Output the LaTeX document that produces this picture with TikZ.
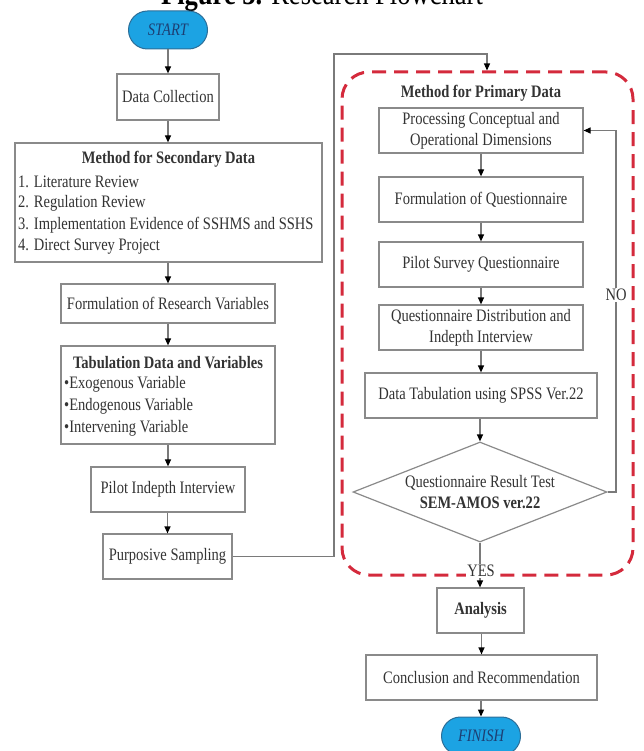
\documentclass[tikz,border=0pt]{standalone}
\usepackage{fontspec}
\setmainfont{Liberation Serif}[FakeStretch=0.83]
\usetikzlibrary{arrows.meta,shapes.geometric}

\definecolor{boxgray}{HTML}{8A8A8A}
\definecolor{linegray}{HTML}{7A7A7A}
\definecolor{textgray}{HTML}{333333}
\definecolor{termfill}{HTML}{1CA3E3}
\definecolor{termdraw}{HTML}{2C6E98}
\definecolor{termtext}{HTML}{1C3F73}
\definecolor{framered}{HTML}{D42A3C}

\tikzset{
  bodyfont/.style={font=\fontsize{17.5}{21}\selectfont, text=textgray},
  stepbox/.style={draw=boxgray, line width=1.2pt, fill=white, rectangle,
    align=center, inner sep=0pt, bodyfont},
  term/.style={draw=termdraw, line width=1pt, fill=termfill, rectangle,
    rounded corners=19pt, minimum width=79, minimum height=38, inner sep=0pt,
    font=\fontsize{17.5}{21}\selectfont\itshape, text=termtext},
  decision/.style={draw=boxgray, line width=1.2pt, fill=white, diamond,
    aspect=2.54, minimum width=254, minimum height=100, inner sep=0pt,
    align=center, bodyfont},
  plain/.style={inner sep=0pt, bodyfont},
  flow/.style={draw=linegray, line width=1.2pt,
    -{Triangle[length=7pt,width=6pt,color=black,fill=black]}},
  link/.style={draw=linegray, line width=1.2pt},
  frame/.style={draw=framered, line width=3pt, dash pattern=on 14pt off 8pt,
    rounded corners=27pt, rectangle, inner sep=0pt},
  tag/.style={fill=white, inner sep=1.5pt, bodyfont},
}

\begin{document}
\begin{tikzpicture}[x=1pt, y=-1pt]
\useasboundingbox (0,0) rectangle (644,751);

% caption
\node[anchor=base, inner sep=0pt, font=\fontsize{32}{36}\selectfont] (title)
  at (322,5) {\textbf{Figure 3.} Research Flowchart};

% ---------- left column ----------
\node[term] (start) at (168,30) {START};
\node[stepbox, minimum width=102, minimum height=46] (collect) at (168,97) {Data Collection};

\node[stepbox, minimum width=307, minimum height=119] (secondary) at (168.5,202.5) {};
\node[plain, font=\fontsize{17.5}{21}\selectfont\bfseries] (sectitle) at (168.5,159) {Method for Secondary Data};
\node[plain, anchor=west] (sec1) at (18,182) {1. Literature Review};
\node[plain, anchor=west] (sec2) at (18,203.5) {2. Regulation Review};
\node[plain, anchor=west] (sec3) at (18,225.5) {3. Implementation Evidence of SSHMS and SSHS};
\node[plain, anchor=west] (sec4) at (18,247) {4. Direct Survey Project};

\node[stepbox, minimum width=214, minimum height=39] (formvar) at (168,303.5) {Formulation of Research Variables};

\node[stepbox, minimum width=214, minimum height=98] (tabul) at (168,395) {};
\node[plain, font=\fontsize{17.5}{21}\selectfont\bfseries] (tabtitle) at (168,363) {Tabulation Data and Variables};
\node[plain, anchor=west] (tab1) at (64,384.5) {•Exogenous Variable};
\node[plain, anchor=west] (tab2) at (64,406.5) {•Endogenous Variable};
\node[plain, anchor=west] (tab3) at (64,428) {•Intervening Variable};

\node[stepbox, minimum width=154, minimum height=45] (pilotint) at (168,489.5) {Pilot Indepth Interview};
\node[stepbox, minimum width=129, minimum height=45] (purpose) at (167.5,556.5) {Purposive Sampling};

\draw[flow] (start) -- (collect);
\draw[flow] (collect) -- (collect |- secondary.north);
\draw[flow] (secondary.south -| formvar) -- (formvar);
\draw[flow] (formvar) -- (tabul);
\draw[flow] (tabul) -- (pilotint);
\draw[flow] (pilotint.south -| purpose) -- (purpose);

% ---------- primary data block ----------
\node[frame, minimum width=291, minimum height=503] (primary) at (487.5,323.5) {};
\node[plain, font=\fontsize{17.5}{21}\selectfont\bfseries] (primtitle) at (481,93) {Method for Primary Data};

\node[stepbox, minimum width=204, minimum height=45] (concept) at (481,130.5) {Processing Conceptual and\\Operational Dimensions};
\node[stepbox, minimum width=204, minimum height=45] (formq) at (481,199.5) {Formulation of Questionnaire};
\node[stepbox, minimum width=204, minimum height=45] (pilotq) at (481,264.5) {Pilot Survey Questionnaire};
\node[stepbox, minimum width=204, minimum height=45] (distrib) at (481,327.5) {Questionnaire Distribution and\\Indepth Interview};
\node[stepbox, minimum width=232, minimum height=45] (spss) at (481,395.5) {Data Tabulation using SPSS Ver.22};
\node[decision] (test) at (480,492) {Questionnaire Result Test\\\textbf{SEM-AMOS ver.22}};

\draw[flow] (concept) -- (formq);
\draw[flow] (formq) -- (pilotq);
\draw[flow] (pilotq) -- (distrib);
\draw[flow] (distrib) -- (spss);
\draw[flow] (spss.south -| test.north) -- (test.north);

% retest loop
\coordinate (loopA) at (616,492);
\coordinate (loopB) at (616,130.5);
\draw[flow] (test.east) -- (loopA) -- (loopB) -- (concept.east);
\node[tag] (no) at (616,295) {NO};

% sampling feeds the primary block
\coordinate (feedA) at (334,556.5);
\coordinate (feedB) at (334,54);
\coordinate (feedC) at (487,54);
\draw[flow] (purpose.east) -- (feedA) -- (feedB) -- (feedC) -- (feedC |- primary.north);

% ---------- closing steps ----------
\node[stepbox, minimum width=87, minimum height=45, font=\fontsize{17.5}{21}\selectfont\bfseries] (analysis) at (480.5,610.5) {Analysis};
\node[stepbox, minimum width=231, minimum height=45] (conclude) at (481.5,677.5) {Conclusion and Recommendation};
\node[term] (finish) at (481,736) {FINISH};

\draw[flow] (test.south) -- (test.south |- analysis.north);
\node[tag] (yes) at (481,571) {YES};
\draw[flow] (analysis.south -| conclude) -- (conclude);
\draw[flow] (conclude.south -| finish) -- (finish);
\end{tikzpicture}
\end{document}
